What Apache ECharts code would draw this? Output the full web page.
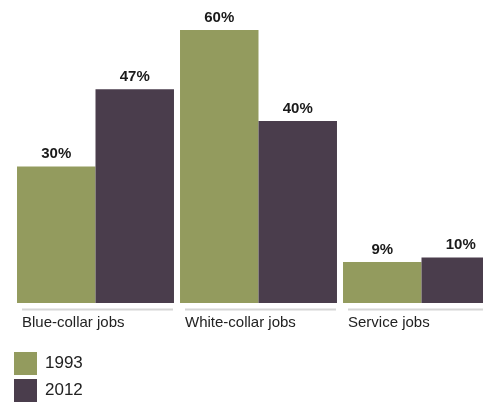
<!DOCTYPE html>
<html>
<head>
<meta charset="utf-8">
<script src="https://cdn.jsdelivr.net/npm/echarts@6/dist/echarts.min.js"></script>
<style>
html,body{margin:0;padding:0;background:#fff;}
#chart{width:483px;height:402px;}
</style>
</head>
<body>
<div id="chart"></div>
<script>
var categories = ['Blue-collar jobs', 'White-collar jobs', 'Service jobs'];
var values1993 = [30, 60, 9];
var values2012 = [47, 40, 10];
var seriesNames = ['1993', '2012'];

var chart = echarts.init(document.getElementById('chart'), null, {renderer: 'canvas'});
var FONT = '"Liberation Sans", Arial, Helvetica, sans-serif';

var option = {
  animation: false,
  backgroundColor: '#ffffff',
  grid: {left: 14, right: -20, top: 30, bottom: 99, containLabel: false, outerBoundsMode: 'none'},
  legend: {
    data: seriesNames,
    orient: 'vertical',
    left: 14,
    top: 352,
    padding: 0,
    itemWidth: 23,
    itemHeight: 23,
    itemGap: 4,
    icon: 'rect',
    textStyle: {fontFamily: FONT, fontSize: 17, color: '#222', padding: [2, 0, 0, 3]}
  },
  xAxis: {
    type: 'category',
    data: categories,
    axisLine: {show: false},
    axisTick: {show: false},
    axisLabel: {
      interval: 0,
      margin: 12,
      align: 'center',
      formatter: function (v) { return '{a|' + v + '}'; },
      rich: {a: {width: 147, align: 'left', fontFamily: FONT, fontSize: 15, color: '#222'}}
    }
  },
  yAxis: {type: 'value', min: 0, max: 60, show: false, splitLine: {show: false}},
  series: [
    {
      name: seriesNames[0], type: 'bar', data: values1993,
      barGap: 0, barCategoryGap: '3.7%',
      itemStyle: {color: '#939b5e'},
      label: {show: true, position: 'top', distance: 5, formatter: '{c}%',
        fontFamily: FONT, fontSize: 15, fontWeight: 'bold', color: '#1a1a1a'}
    },
    {
      name: seriesNames[1], type: 'bar', data: values2012,
      barGap: 0, barCategoryGap: '3.7%',
      itemStyle: {color: '#4a3d4c'},
      label: {show: true, position: 'top', distance: 5, formatter: '{c}%',
        fontFamily: FONT, fontSize: 15, fontWeight: 'bold', color: '#1a1a1a'}
    },
    {
      type: 'custom',
      silent: true,
      clip: false,
      data: categories.map(function (c, i) { return [i, 0]; }),
      renderItem: function (params, api) {
        var p = api.coord([api.value(0), 0]);
        var bw = api.size([1, 0])[0];
        return {
          type: 'line',
          shape: {x1: p[0] - bw / 2 + 8, y1: p[1] + 6.5, x2: p[0] + bw / 2 - 4, y2: p[1] + 6.5},
          style: {stroke: '#d6d6d6', lineWidth: 2}
        };
      }
    }
  ]
};
chart.setOption(option);
</script>
</body>
</html>
